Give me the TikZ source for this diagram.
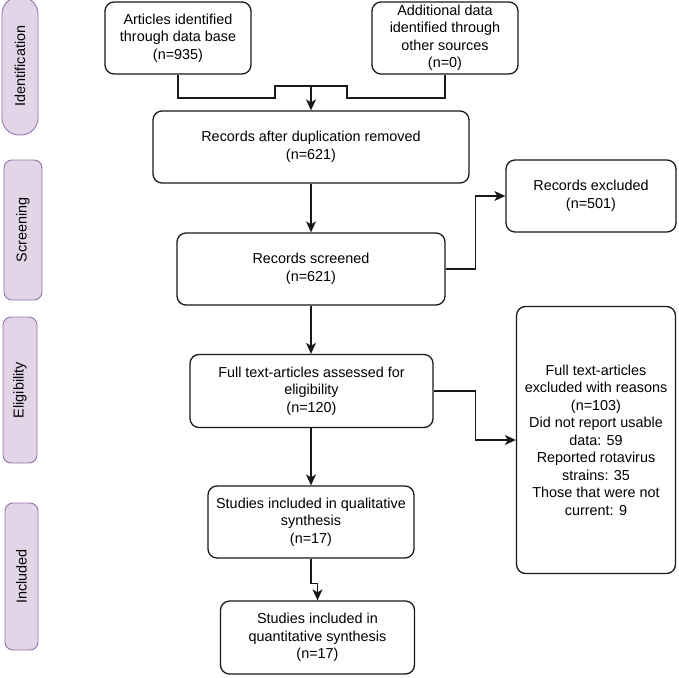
\documentclass[tikz,border=0pt]{standalone}
\usepackage{fontspec}
\setmainfont{Liberation Sans}
\usetikzlibrary{arrows.meta}
\definecolor{phasefill}{RGB}{225,213,231}
\definecolor{phaseline}{RGB}{150,115,166}
\definecolor{boxline}{RGB}{25,25,25}
\begin{document}
\begin{tikzpicture}[
  x=1pt, y=-1pt,
  every node/.style = {align=center, font=\fontsize{14.4}{17.5}\selectfont},
  box/.style = {shape=rectangle, rounded corners=9pt, draw=boxline,
    line width=1.3pt, inner sep=2pt},
  phase/.style = {shape=rectangle, rounded corners=8pt, draw=phaseline,
    fill=phasefill, line width=0.9pt, rotate=90, inner sep=0pt},
  arr/.style = {-{Stealth[length=11pt,width=10pt,inset=3pt]}},
  link/.style = {draw=boxline, line width=1.3pt}
  ]
  \useasboundingbox (0,0) rectangle (679,677);
  % phase labels on the left
  \node[phase, rounded corners=17pt, minimum width=138pt, minimum height=36pt]
    (ident) at (20,66) {Identification};
  \node[phase, minimum width=140pt, minimum height=38pt] (screen) at (23,230) {Screening};
  \node[phase, minimum width=146pt, minimum height=34pt] (elig) at (20,390) {Eligibility};
  \node[phase, minimum width=147pt, minimum height=33pt] (incl) at (21.5,576.5) {Included};
  % flow boxes
  \node[box, minimum width=146pt, minimum height=72pt] (art) at (178,38)
    {Articles identified\\through data base\\(n=935)};
  \node[box, minimum width=146pt, minimum height=72pt] (add) at (445,38)
    {Additional data\\identified through\\other sources\\(n=0)};
  \node[box, minimum width=316pt, minimum height=72pt] (dup) at (311,147)
    {Records after duplication removed\\(n=621)};
  \node[box, minimum width=268pt, minimum height=72pt] (scr) at (311,269)
    {Records screened\\(n=621)};
  \node[box, minimum width=170pt, minimum height=72pt] (exc) at (591,196)
    {Records excluded\\(n=501)};
  \node[box, minimum width=243pt, minimum height=73pt] (full) at (311.5,391)
    {Full text-articles assessed for\\eligibility\\(n=120)};
  \node[box, minimum width=159pt, minimum height=267pt] (fexc) at (596,440)
    {Full text-articles\\excluded with reasons\\(n=103)\\Did not report usable\\data: 59\\Reported rotavirus\\strains: 35\\Those that were not\\current: 9};
  \node[box, minimum width=206pt, minimum height=72pt] (qual) at (311,522)
    {Studies included in qualitative\\synthesis\\(n=17)};
  \node[box, minimum width=194pt, minimum height=73pt] (quant) at (317.5,637.5)
    {Studies included in\\quantitative synthesis\\(n=17)};
  % connectors
  \coordinate (la) at (275,98);
  \coordinate (lb) at (275,86);
  \coordinate (rb) at (347,86);
  \coordinate (ra) at (347,98);
  \coordinate (mid) at (311,86);
  \draw[link] (art.south) |- (la) -- (lb) -- (rb) -- (ra) -| (add.south);
  \draw[link, arr] (mid) -- (dup.north);
  \draw[link, arr] (dup.south) -- (scr.north);
  \draw[link, arr] (scr.east) -- ++(30,0) |- (exc.west);
  \draw[link, arr] (scr.south) -- (full.north -| scr.south);
  \draw[link, arr] (full.east) -- ++(42,0) |- (fexc.west);
  \draw[link, arr] (full.south -| scr.south) -- (qual.north);
  \draw[link, arr] (qual.south) -- ++(0,25) -| (quant.north);
\end{tikzpicture}
\end{document}
